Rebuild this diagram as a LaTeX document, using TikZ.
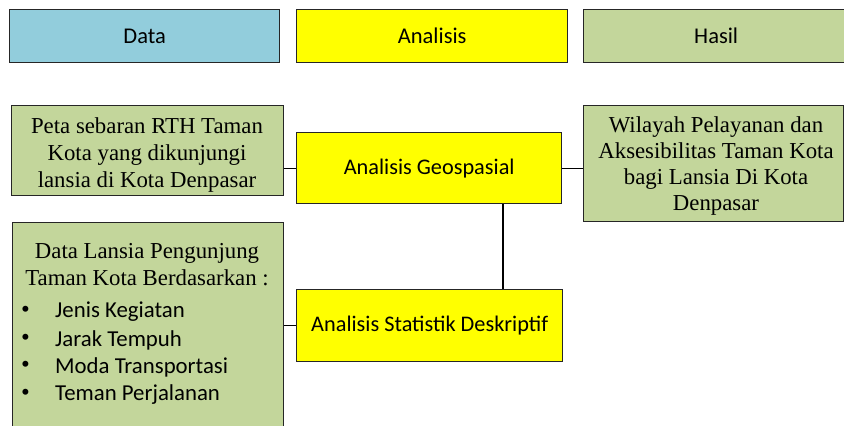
\documentclass[tikz,border=0pt]{standalone}
\usepackage{fontspec}
\setmainfont{Liberation Serif}
\newfontfamily\calfont{Carlito}
\definecolor{dblue}{HTML}{92CDDC}
\definecolor{dgreen}{HTML}{C3D69B}
\definecolor{dyellow}{HTML}{FFFF00}
\definecolor{edgecol}{HTML}{262626}
\begin{document}
\begin{tikzpicture}[x=1pt,y=-1pt,
  box/.style={draw=edgecol, line width=1.4pt, inner sep=0pt, anchor=north west},
  headbox/.style={box, minimum height=53pt, font=\calfont\fontsize{22.5}{26}\selectfont},
  anabox/.style={box, fill=dyellow, font=\calfont\fontsize{22.3}{26}\selectfont},
  serif/.style={align=center, inner sep=0pt, font=\fontsize{22.8}{27}\selectfont},
  bul/.style={anchor=west, inner sep=0pt, font=\calfont\fontsize{22.8}{26}\selectfont},
  dot/.style={anchor=west, inner sep=0pt, font=\fontsize{25}{26}\selectfont},
  conn/.style={draw=black, line width=1.2pt}]
\useasboundingbox (0,0) rectangle (844,426);
\clip (0,0) rectangle (844,426);
% header row
\node[headbox, fill=dblue, minimum width=270pt] (data) at (9,9) {Data};
\node[headbox, fill=dyellow, minimum width=271pt] (ana) at (296,9) {Analisis};
\node[headbox, fill=dgreen, minimum width=265pt] (has) at (583,9) {Hasil};
% data boxes
\node[box, fill=dgreen, minimum width=272pt, minimum height=90pt] (peta) at (11,105) {};
\node[serif] (petatext) at (147,155) {Peta sebaran RTH Taman\\Kota yang dikunjungi\\lansia di Kota Denpasar};
\node[box, fill=dgreen, minimum width=271pt, minimum height=220pt] (lansia) at (12,222) {};
\node[serif] (lansiatext) at (147,265) {Data Lansia Pengunjung\\Taman Kota Berdasarkan :};
\node[dot] (d1) at (21,312) {\textbullet};
\node[dot] (d2) at (21,340) {\textbullet};
\node[dot] (d3) at (21,367) {\textbullet};
\node[dot] (d4) at (21,395) {\textbullet};
\node[bul] (b1) at (55,312) {Jenis Kegiatan};
\node[bul] (b2) at (55,340) {Jarak Tempuh};
\node[bul] (b3) at (55,367) {Moda Transportasi};
\node[bul] (b4) at (55,395) {Teman Perjalanan};
% analysis boxes
\node[anabox, minimum width=265pt, minimum height=71pt] (geo) at (296,132) {Analisis Geospasial};
\node[anabox, minimum width=266pt, minimum height=72pt] (stat) at (296,289) {Analisis Statistik Deskriptif};
% result box
\node[box, fill=dgreen, minimum width=260pt, minimum height=116pt] (wil) at (583,105) {};
\node[serif, font=\fontsize{22.8}{25.8}\selectfont] (wiltext) at (716,166) {Wilayah Pelayanan dan\\Aksesibilitas Taman Kota\\bagi Lansia Di Kota\\Denpasar};
% connectors
\draw[conn] (geo.west) -- (geo.west -| peta.east);
\draw[conn] (geo.east) -- (geo.east -| wil.west);
\coordinate (gs) at ([xshift=207pt]geo.south west);
\draw[conn] (gs) -- (gs |- stat.north);
\draw[conn] (stat.west) -- (stat.west -| lansia.east);
\end{tikzpicture}
\end{document}
